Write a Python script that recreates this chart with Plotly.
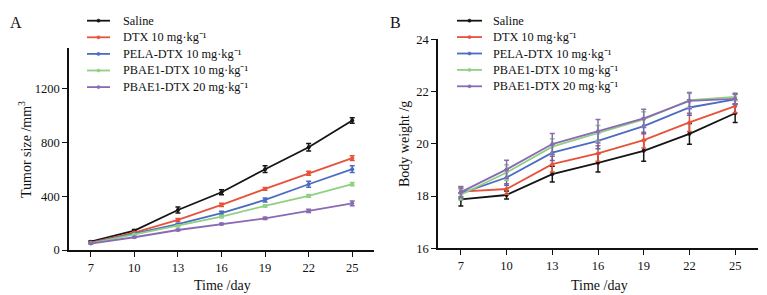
import plotly.graph_objects as go

days = [7, 10, 13, 16, 19, 22, 25]
series_names = ["Saline", "DTX 10 mg·kg⁻¹", "PELA-DTX 10 mg·kg⁻¹",
                "PBAE1-DTX 10 mg·kg⁻¹", "PBAE1-DTX 20 mg·kg⁻¹"]
colors = ["#151515", "#e8523a", "#4b6cc1", "#90d083", "#8a6ab5"]

tumor_saline = [62, 144, 298, 430, 602, 766, 965]
tumor_dtx = [55, 130, 224, 336, 455, 572, 684]
tumor_pela = [52, 120, 192, 274, 373, 490, 602]
tumor_pbae10 = [50, 115, 179, 249, 328, 403, 490]
tumor_pbae20 = [48, 95, 149, 194, 236, 291, 348]
tumor_err_saline = [5, 8, 22, 18, 25, 28, 20]
tumor_err_dtx = [3, 5, 10, 12, 10, 15, 18]
tumor_err_pela = [3, 5, 8, 15, 15, 22, 25]
tumor_err_pbae10 = [3, 4, 6, 8, 8, 10, 12]
tumor_err_pbae20 = [3, 4, 5, 6, 8, 12, 18]

weight_saline = [17.87, 18.04, 18.84, 19.27, 19.73, 20.38, 21.17]
weight_dtx = [18.17, 18.27, 19.22, 19.63, 20.14, 20.82, 21.44]
weight_pela = [18.10, 18.71, 19.66, 20.11, 20.68, 21.39, 21.70]
weight_pbae10 = [18.05, 18.90, 19.89, 20.40, 20.93, 21.67, 21.80]
weight_pbae20 = [18.15, 19.02, 19.99, 20.48, 20.97, 21.64, 21.72]
weight_err_saline = [0.25, 0.15, 0.3, 0.35, 0.4, 0.4, 0.35]
weight_err_dtx = [0.2, 0.2, 0.3, 0.3, 0.3, 0.35, 0.25]
weight_err_pela = [0.2, 0.3, 0.3, 0.3, 0.3, 0.3, 0.2]
weight_err_pbae10 = [0.2, 0.3, 0.3, 0.3, 0.3, 0.3, 0.15]
weight_err_pbae20 = [0.2, 0.35, 0.4, 0.45, 0.35, 0.3, 0.2]

tumor = [tumor_saline, tumor_dtx, tumor_pela, tumor_pbae10, tumor_pbae20]
tumor_err = [tumor_err_saline, tumor_err_dtx, tumor_err_pela, tumor_err_pbae10, tumor_err_pbae20]
weight = [weight_saline, weight_dtx, weight_pela, weight_pbae10, weight_pbae20]
weight_err = [weight_err_saline, weight_err_dtx, weight_err_pela, weight_err_pbae10, weight_err_pbae20]

FONT = "Liberation Serif, Times New Roman, serif"
OFF = 8  # page body margin
W, H = 767 - OFF, 295 - OFF

fig = go.Figure()
for i in range(5):
    fig.add_trace(go.Scatter(
        x=days, y=tumor[i], name=series_names[i], mode="lines+markers", showlegend=False,
        line=dict(color=colors[i], width=1.8), marker=dict(color=colors[i], size=4),
        error_y=dict(type="data", array=tumor_err[i], color=colors[i], thickness=1.5, width=2.5),
        xaxis="x", yaxis="y"))
for i in range(5):
    fig.add_trace(go.Scatter(
        x=days, y=weight[i], name=series_names[i], mode="lines+markers", showlegend=False,
        line=dict(color=colors[i], width=1.8), marker=dict(color=colors[i], size=4),
        error_y=dict(type="data", array=weight_err[i], color=colors[i], thickness=1.5, width=2.5),
        xaxis="x2", yaxis="y2"))

def px(v):
    return (v - OFF) / W

def py(v):
    return 1 - (v - OFF) / H

axis_common = dict(showgrid=False, zeroline=False, showline=True, linecolor="#111",
                   linewidth=1.6, ticks="outside", ticklen=5, tickwidth=1.4, tickcolor="#111",
                   automargin=False,
                   tickfont=dict(family=FONT, size=12.5, color="#111"))

def label(text, x, y, size=14, angle=0, xanchor="center"):
    return dict(text=text, x=px(x), y=py(y), xref="paper", yref="paper", xanchor=xanchor,
                yanchor="middle", showarrow=False, textangle=angle,
                font=dict(family=FONT, size=size, color="#111"))

annotations = [
    label("A", 8, 22, size=16, xanchor="left"),
    label("B", 388, 22, size=16, xanchor="left"),
    label("Time /day", 222, 285),
    label("Time /day", 599, 285),
    label("Tumor size /mm<sup>3</sup>", 25, 150, angle=-90),
    label("Body weight /g", 404, 144, angle=-90),
]
shapes = []
# manual legends (compact row spacing like the reference)
for (lx0, lx1, tx, y0, dy) in [(87, 110, 121, 20.7, 16.6), (457, 482, 491, 20.7, 16.4)]:
    for i in range(5):
        yy = y0 + dy * i
        shapes.append(dict(type="line", xref="paper", yref="paper", x0=px(lx0), x1=px(lx1),
                           y0=py(yy), y1=py(yy), line=dict(color=colors[i], width=1.8)))
        cx = (lx0 + lx1) / 2
        shapes.append(dict(type="circle", xref="paper", yref="paper", x0=px(cx - 1.6), x1=px(cx + 1.6),
                           y0=py(yy + 1.6), y1=py(yy - 1.6), fillcolor=colors[i],
                           line=dict(color=colors[i], width=0.5)))
        annotations.append(dict(text=series_names[i], x=px(tx), y=py(yy), xref="paper", yref="paper",
                                xanchor="left", yanchor="middle", showarrow=False,
                                font=dict(family=FONT, size=12.3, color="#111")))

fig.update_layout(
    template="none",
    width=W, height=H, margin=dict(l=0, r=0, t=0, b=0, pad=0), autosize=False,
    paper_bgcolor="white", plot_bgcolor="white",
    font=dict(family=FONT, color="#111"),
    showlegend=False,
    xaxis=dict(domain=[px(69), px(374)], range=[5.5, 26.5], tickvals=days, anchor="y", **axis_common),
    yaxis=dict(domain=[py(250), py(48)], range=[0, 1505], tickvals=[0, 400, 800, 1200], anchor="x",
               **axis_common),
    xaxis2=dict(domain=[px(438), px(758)], range=[5.5, 26.5], tickvals=days, anchor="y2", **axis_common),
    yaxis2=dict(domain=[py(248.3), py(39.3)], range=[16, 24], tickvals=[16, 18, 20, 22, 24], anchor="x2",
                **axis_common),
    annotations=annotations,
    shapes=shapes,
)

fig.write_html("out.html")
